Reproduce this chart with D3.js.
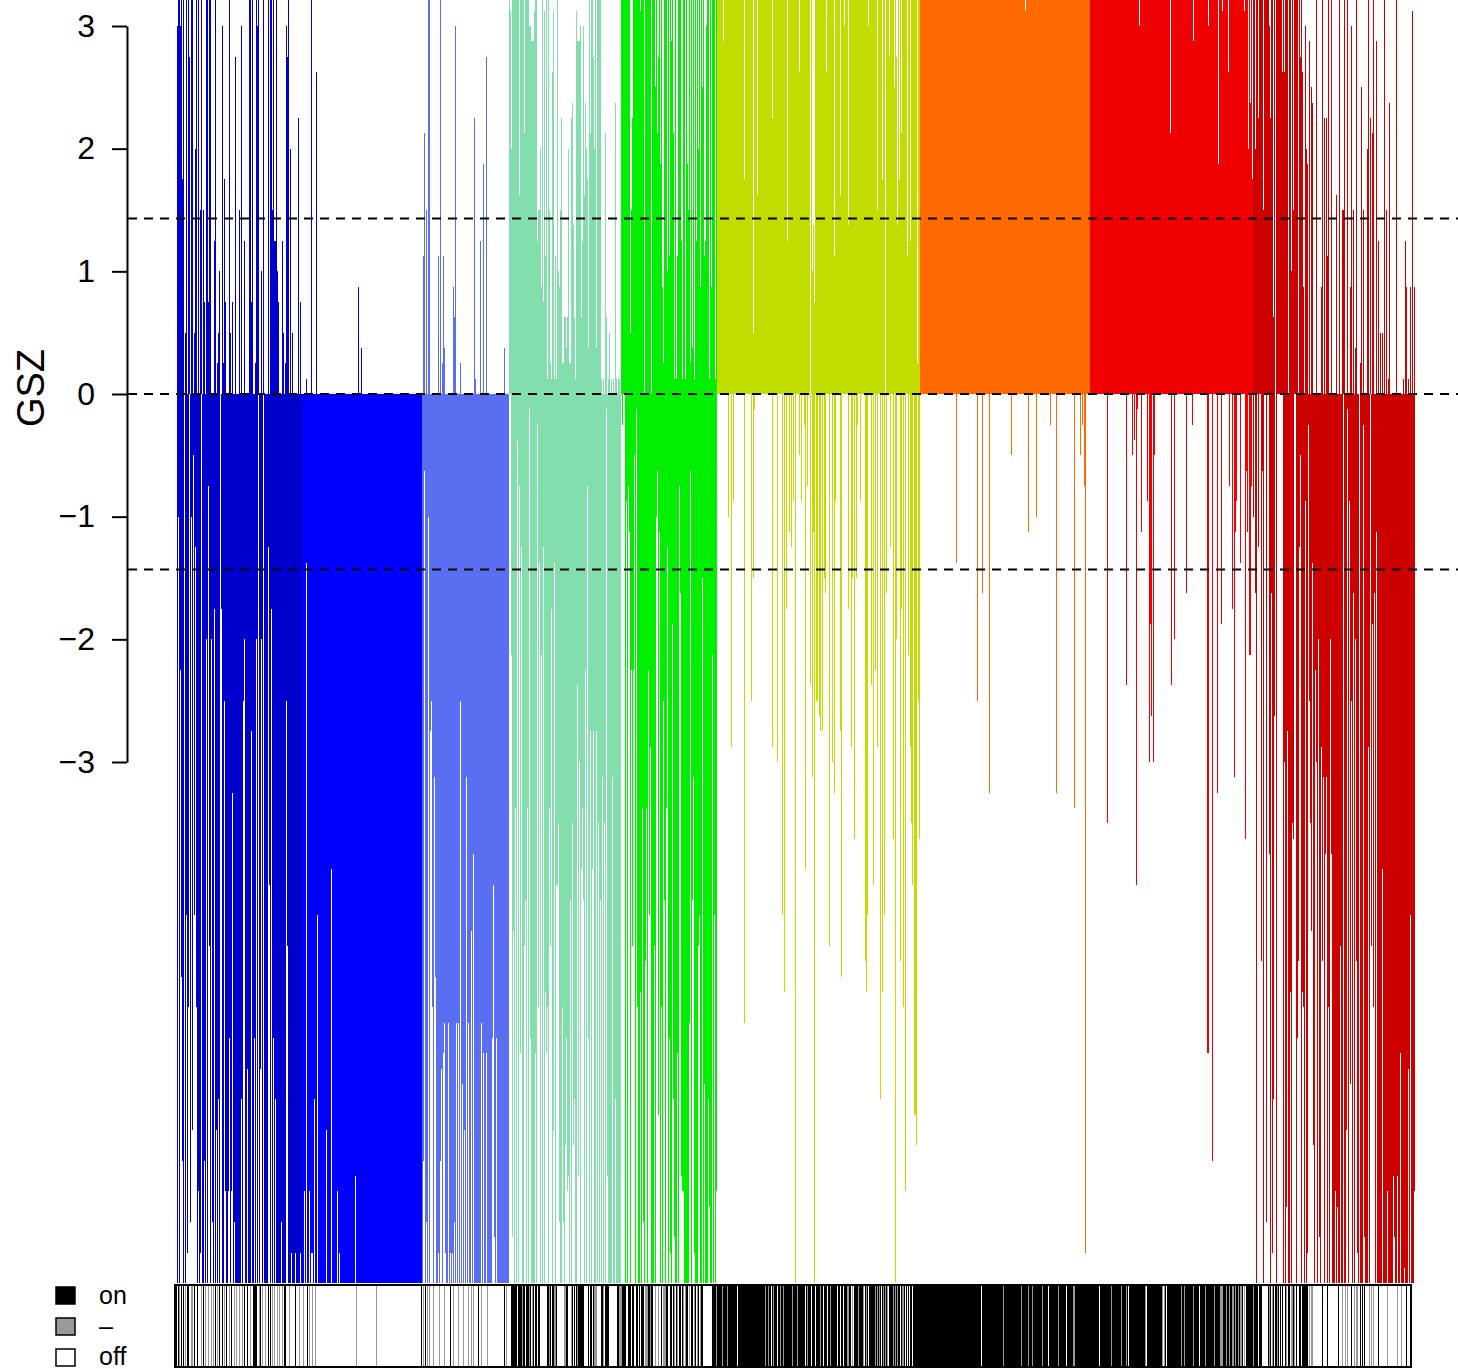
<!doctype html>
<html lang="en">
<head>
  <meta charset="utf-8" />
  <title>GSZ by gene set cluster</title>
  <style>
    html, body {
      margin: 0;
      padding: 0;
      background: #fff;
    }
    svg {
      display: block;
    }
    text {
      font-family: "Liberation Sans", Arial, Helvetica, sans-serif;
    }
  </style>
</head>
<body>

<svg id="chart" width="1458" height="1369"></svg>

<script src="https://cdn.jsdelivr.net/npm/d3@7"></script>

<script>

// Values are one character per bar:
// "0".."9","a".."z","A".."Z" = 0..61 eighths of a GSZ unit ("Z" = off the scale).
var codes = '0123456789abcdefghijklmnopqrstuvwxyzABCDEFGHIJKLMNOPQRSTUVWXYZ';

// Clusters, left to right
var clusterNames = ['c1', 'c2', 'c3', 'c4', 'c5', 'c6', 'c7', 'c8', 'c9'];
var clusterColors = ['#0000CD', '#0000FF', '#5A6EF2', '#82DEAD', '#00EE00',
                     '#C1DD00', '#FF6A00', '#F00000', '#CD0000'];

// Positive GSZ per gene set
var gszUp = [
  'oZZoZeZ04Z 0Zm0ZZ04gZ 0Z0cZ0c60Z Z6ZZ000aZ0 24800o2e60 00Z40600m0 00c0o00a00 00ZZ6Z002Z oZ0080Z000 0Z0ZZcZaaZ 86000a402o mZ0g040000 0i060',
  '000010000Z 0000l00000 0000000000 0000000000 0000000000 0000007003 0000000000 0000000000 0000000000 0000000000 0000000000 0000000000',
  '09h0c0ZZ00 00000090Z0 2930000000 075o000020 0000000000 00i10000a0 0f00m00000 0000000000 0030000',
  'ZpgZZZZZZZ dZZZZhZZZZ oonnnpZZac cg7Z6p9Z1Z c21lp191Z8 7ci225535g 22ijb51pnn no5aodjge3 ZhZZmgZ3ZZ ZZ1010h501 401010j101 10',
  'ZZZZZZZZZ4 ciZZZZZZZp ZZZ0ZZZZZZ 0ZZZkZhmZf Z72ZZZ8Z9Z nZh1Z19ZZZ a1ZZ1ZfcZ2 Z3Z1ZaZgZ7 ZkZ9aoZZ1Z 7ZZZ1Z',
  'ZZZZZZnZZZ ZZZZZZZZZZ ZZZZZZZeZZ ZZZZZZ4ZZZ dZZZZZZZZZ ZZZZZiZZZZ ZZZZZZZZZZ aZZZZZZZZZ ZZlZZZZZZZ ZZZ0Z8b6ZZ ZZZZZZZZZl ZZZZZZZ9ZZ ZZZdZZZoZZ ZbZZZZZZZZ ZZZZZZZZZZ ZoZZZZZZZZ cZZZZeZZ0Z ZZmZZZZkZm bZeZhZZZZZ 9ZZaZZZZZZ 2ZZ',
  'ZZZZZZZZZZ ZZZZZZZZZZ ZZZZZZZZZZ ZZZZZZZZZZ ZZZZZZZZZZ ZZZZZZZZZZ ZZZZZZZZZZ ZZZZZZZZZZ ZZZZZZZZZZ ZZZZZZZZZZ ZZZZZpZZZZ ZZZZZZZZZZ ZZZZZZZZZZ ZZZZZZZZZZ ZZZZZZZZZZ ZZZZZZZZZZ ZZZZZZZZZZ',
  'ZZZZZZZZZZ ZZZZZZZZZZ ZZZZZZZZZZ ZZZZZZZZZZ ZZZZZZZZZo ZZZZZZZZZZ ZZZZZZZZZZ ZZZZZZZZZZ hZZZZZZZZZ ZZZZZZZZZZ ZZZnZZZZZZ ZZZZZZZZoZ ZZZZZZZZfZ ZZpZZZZZlZ ZZZZZZZZZZ ZZZZpZZZgZ jZe',
  'ZZgZZiZZZZ cZZZZZoiZZ 5Z0ZZZZZZl ZlZZZ0ZZ8Z cZZZZ0ZmZl 70ogf0n0kj 000Z00007Z 0i0i9Z00Z0 000d00Z00c cZ00Z007o0 c03Z0002k0 c000gZ0i0h Z00n0a0404 0Z0c01j000 000Z000000 10a701070p 07'
];

// Negative GSZ per gene set (magnitude)
var gszDown = [
  'Z8ZiCOZ0Zy UE0S8M4yaE ZQZU0ZZOZg Z6AZgSZeZM ZKZ0eZZkQZ ZQGZQqZSZZ ZZZZKZkgZZ IZZZmZZGZg Z0ZIgZ0ZZZ ZawZeZGZKZ ZZZZSZZZZk AZZZUZZZUZ ZZZUZ',
  'ZZQZbZZQZU UZKZZyZZZZ ZZZZMZZZZv ZZZZZQZUZZ ZZZZZZZZZZ ZZZPZZZZZZ ZZZZZZZZZZ ZZZZZZZZZZ ZZZZZZZZZZ ZZZZZZZZZZ ZZZZZZZZZZ ZZZZZZZZZZ',
  'ZO5ZSZ8Zmk EZpCZZUZOI ZHFUZZFZUZ UZSZFZFZkZ JZMZpZFZZz ZuZZZZZZZF ZHZZHZZZZZ GwTZGZZZZZ ZZZZZZZ',
  '00hTzZrZ3Z 6HaZZAxZrZ 1GZZZZHZ2E bZhZaZDHEZ rAeZMbZwws SZZESZNGQP ZxZsNKZZjP oZvrxZiZ6G ZmZvmZZmZs ZxZpZsZ1PZ ZZZpZZKZZZ ZZ',
  '0200Z7Z69Z iAi4Z1EZZD ZrSZBrZiyn ZZZAZ85L9Z EZkxZraZGU ZfKTZZHZ6d PQQZZZZZF5 ZxpUZZZAyZ ZcZJZZZKRZ ZhZyZQ',
  '0000000000 0800n07000 0000000F00 0000k0c100 0000000000 00000n0000 o0000y0D0e 0090a070Z0 00407002v0 600j0p9Z0k k0lm0m0cd0 00A00o0q70 000mC00000 0e00nc0t0c 20070000BD y000j0w0i0 n00K0D0y0d 000a00t0Zg 000Be0E0Q0 0h0nsw0LLN 0kt',
  '0000000000 0000000000 0000000000 000000b000 0000000000 0000000k00 00d000000q 0000000000 0000000000 0400000000 0000000090 0000008000 0000000000 200000q000 0000000000 0000r00000 40206U0000',
  '0000000000 0000000s00 0000000000 000000j000 004030w100 090000070o fl0o400000 0000000000 0j00g00000 000000d000 0020000000 0000000HH0 00O0000q00 0f00000006 00e0p97000 b0000t590h h60',
  '80dZ0a00B5 Z00S00uZdU Kl0Z000000 ZoZRmZZDZs t00ZGBa4ZD EZ7ZU2kszb NZioZgTZnB pZupWEZguZ ZZQZRZZAZZ 0ZZM1Z7JkZ dZgBUZ0ZZZ 2TZZZnZ0Af EdZ9ZZZZZv ZZZZQZZZZZ PTZZPZZHZZ ZVZZZIZyZZ ZQ'
];

// Gene status strip: 1 = on, 2 = "-", 0 = off
var geneStatus = [
  '1012010102 0110022010 0100020102 0020020201 0201001020 1002010020 2002002010 0100200111 1002102002 0010102020 0202002011 0002000001 00020',
  '0020001020 0200200000 0000000000 0000000000 0000000000 0000002000 0000000000 0000002000 0000000000 0000000000 0000000000 0000000000',
  '0102010202 0002000002 0000200000 1002000020 0002000020 0202000010 0200000200 0000000000 0000102',
  '0000111111 0111121101 1121021011 0110000000 1121011221 0000000221 1000210101 2111111000 0101101222 0000112011 1100000000 11',
  '2221111001 1101100110 1101110222 1121100200 2001022211 0011012012 0110120211 0201102102 1021100000 000011',
  '1121111121 1112111111 1110111111 1111111111 1111111111 1211211012 1110112112 1111111121 1112111111 1012111011 1011112110 1110112111 1110110110 1112211020 1111211112 0121011111 1212121012 1212011112 1212110122 1010101101 111',
  '1111111111 1111111111 1111111111 1111111111 1111111111 1111111111 1111101111 1111111111 1111111211 1111111111 1111121111 1121112111 1111112111 1101111111 1121111111 0111111221 1111111111',
  '1111111111 1110111111 1111121111 1111121111 2101111111 1111111112 0111111111 1111112021 0111111111 1111121121 1111111211 1110111112 1111111121 1111222111 2112112212 1121221020 111',
  '1111211111 0111000000 1210210112 1010100120 1102212010 0110111111 0202200000 0000100001 0000000000 1000200202 0001002022 0010101000 0202020000 1000000002 0000000002 0002000010 00'
];

var yTicks = [-3, -2, -1, 0, 1, 2, 3];
var cutoffs = [1.43, 0, -1.43];
var statusLabels = ['on', '\u2013', 'off'];
var statusColors = {'1': '#000000', '2': '#999999', '0': '#ffffff'};

function chars(s) { return s.replace(/ /g, '').split(''); }
function decode(s) { return chars(s).map(function (c) { return codes.indexOf(c) / 8; }); }

// one record per gene set
var bars = [];
clusterNames.forEach(function (name, k) {
  var up = decode(gszUp[k]), down = decode(gszDown[k]), st = chars(geneStatus[k]);
  up.forEach(function (v, j) {
    bars.push({i: bars.length, k: k, up: v, down: down[j] || 0, status: st[j] || '0'});
  });
});

var svg = d3.select('#chart');

var x = d3.scaleBand()
  .domain(d3.range(bars.length))
  .range([177, 177 + bars.length])
  .padding(0);

var y = d3.scaleLinear()
  .domain([-3, 3])
  .range([762, 26]);

// bars run off the plot; cut them at the top of the picture and at the strip
svg.append('clipPath').attr('id', 'plotclip')
  .append('rect')
  .attr('x', 0).attr('y', 0)
  .attr('width', 1458).attr('height', 1283);

var plot = svg.append('g')
  .attr('clip-path', 'url(#plotclip)')
  .attr('shape-rendering', 'crispEdges');

plot.selectAll('rect.up')
  .data(bars.filter(function (d) { return d.up > 0; }))
  .enter()
  .append('rect')
  .attr('class', 'up')
  .attr('x', function (d) { return x(d.i); })
  .attr('width', x.bandwidth())
  .attr('y', function (d) { return y(d.up); })
  .attr('height', function (d) { return y(0) - y(d.up); })
  .attr('fill', function (d) { return clusterColors[d.k]; });

plot.selectAll('rect.down')
  .data(bars.filter(function (d) { return d.down > 0; }))
  .enter()
  .append('rect')
  .attr('class', 'down')
  .attr('x', function (d) { return x(d.i); })
  .attr('width', x.bandwidth())
  .attr('y', y(0))
  .attr('height', function (d) { return y(-d.down) - y(0); })
  .attr('fill', function (d) { return clusterColors[d.k]; });

// threshold lines
svg.selectAll('line.cut')
  .data(cutoffs)
  .enter()
  .append('line')
  .attr('class', 'cut')
  .attr('x1', 128).attr('x2', 1458)
  .attr('y1', function (d) { return y(d); })
  .attr('y2', function (d) { return y(d); })
  .attr('stroke', '#000')
  .attr('stroke-width', 2)
  .attr('stroke-dasharray', '9,7');

// y axis
var yAxis = d3.axisLeft(y)
  .tickValues(yTicks)
  .tickSize(15)
  .tickSizeOuter(0)
  .tickPadding(17)
  .tickFormat(function (d) { return d < 0 ? '\u2212' + Math.abs(d) : String(d); });

var ax = svg.append('g')
  .attr('transform', 'translate(127,0)')
  .call(yAxis);
ax.select('.domain').attr('stroke', '#000').attr('stroke-width', 2);
ax.selectAll('.tick line').attr('stroke', '#000').attr('stroke-width', 2);
ax.selectAll('.tick text')
  .attr('font-size', 32)
  .attr('font-family', '"Liberation Sans", Arial, Helvetica, sans-serif')
  .attr('fill', '#000');

svg.append('text')
  .attr('transform', 'translate(44,388) rotate(-90)')
  .attr('text-anchor', 'middle')
  .attr('font-size', 38)
  .text('GSZ');

// on / - / off strip under the bars
var xs = d3.scaleBand()
  .domain(d3.range(bars.length))
  .range([176, 1410]);

svg.append('rect')
  .attr('x', 176).attr('y', 1286)
  .attr('width', 1234).attr('height', 81)
  .attr('fill', '#fff');

svg.append('g')
  .attr('shape-rendering', 'crispEdges')
  .selectAll('rect')
  .data(bars.filter(function (d) { return d.status !== '0'; }))
  .enter()
  .append('rect')
  .attr('x', function (d) { return xs(d.i); })
  .attr('width', Math.max(1, xs.bandwidth()))
  .attr('y', 1286)
  .attr('height', 81)
  .attr('fill', function (d) { return statusColors[d.status]; });

svg.append('rect')
  .attr('x', 175).attr('y', 1285)
  .attr('width', 1236).attr('height', 82)
  .attr('fill', 'none')
  .attr('stroke', '#000')
  .attr('stroke-width', 2);

// legend
var legend = svg.append('g');
var legendFill = ['#000000', '#999999', '#ffffff'];
legend.selectAll('rect')
  .data(statusLabels)
  .enter()
  .append('rect')
  .attr('x', 56)
  .attr('y', function (d, i) { return 1287 + i * 31; })
  .attr('width', 19).attr('height', 17)
  .attr('fill', function (d, i) { return legendFill[i]; })
  .attr('stroke', '#000')
  .attr('stroke-width', 1.5);

legend.selectAll('text')
  .data(statusLabels)
  .enter()
  .append('text')
  .attr('x', 99)
  .attr('y', function (d, i) { return 1304 + i * 30.5; })
  .attr('font-size', 25)
  .text(function (d) { return d; });

</script>

</body>
</html>
